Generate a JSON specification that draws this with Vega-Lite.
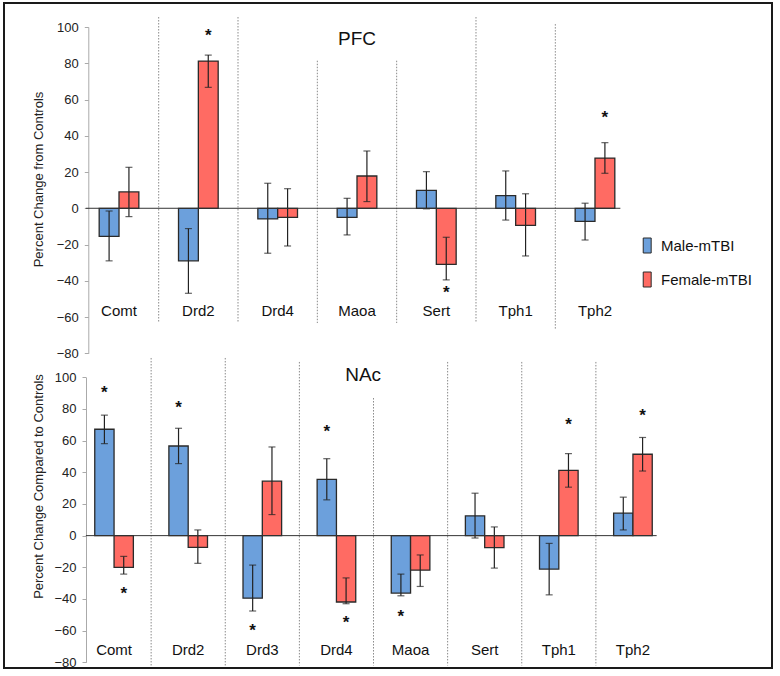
{
  "$schema": "https://vega.github.io/schema/vega-lite/v6.json",
  "width": 768,
  "height": 665,
  "autosize": {"type": "none"},
  "padding": {"left": 4, "top": 3, "right": 8, "bottom": 8},
  "background": "white",
  "config": {
    "view": {"stroke": "#1a1a1a", "strokeWidth": 2, "fill": "white"},
    "font": "Liberation Sans"
  },
  "datasets": {
    "pfc": [
      {"gene": "Comt", "sex": "Male-mTBI", "value": -15.5, "lo": -29, "hi": -1.5, "star": null},
      {"gene": "Comt", "sex": "Female-mTBI", "value": 9, "lo": -4.6, "hi": 22.6, "star": null},
      {"gene": "Drd2", "sex": "Male-mTBI", "value": -29, "lo": -46.9, "hi": -11.2, "star": null},
      {"gene": "Drd2", "sex": "Female-mTBI", "value": 81.2, "lo": 66.7, "hi": 84.5, "star": 97},
      {"gene": "Drd4", "sex": "Male-mTBI", "value": -5.9, "lo": -24.8, "hi": 13.8, "star": null},
      {"gene": "Drd4", "sex": "Female-mTBI", "value": -5, "lo": -20.8, "hi": 10.8, "star": null},
      {"gene": "Maoa", "sex": "Male-mTBI", "value": -5, "lo": -14.7, "hi": 5.5, "star": null},
      {"gene": "Maoa", "sex": "Female-mTBI", "value": 17.8, "lo": 3.7, "hi": 31.6, "star": null},
      {"gene": "Sert", "sex": "Male-mTBI", "value": 9.9, "lo": -0.3, "hi": 20.2, "star": null},
      {"gene": "Sert", "sex": "Female-mTBI", "value": -30.9, "lo": -39.5, "hi": -16, "star": -44.3},
      {"gene": "Tph1", "sex": "Male-mTBI", "value": 7, "lo": -6.5, "hi": 20.6, "star": null},
      {"gene": "Tph1", "sex": "Female-mTBI", "value": -9.4, "lo": -26.3, "hi": 8, "star": null},
      {"gene": "Tph2", "sex": "Male-mTBI", "value": -7.2, "lo": -17.5, "hi": 2.8, "star": null},
      {"gene": "Tph2", "sex": "Female-mTBI", "value": 27.7, "lo": 19.3, "hi": 36.2, "star": 52}
    ],
    "nac": [
      {"gene": "Comt", "sex": "Male-mTBI", "value": 67.2, "lo": 58.1, "hi": 76.1, "star": 92.6},
      {"gene": "Comt", "sex": "Female-mTBI", "value": -20.1, "lo": -24.3, "hi": -13.1, "star": -34.5},
      {"gene": "Drd2", "sex": "Male-mTBI", "value": 56.6, "lo": 45.5, "hi": 67.8, "star": 83},
      {"gene": "Drd2", "sex": "Female-mTBI", "value": -7.4, "lo": -17.5, "hi": 3.6, "star": null},
      {"gene": "Drd3", "sex": "Male-mTBI", "value": -39.5, "lo": -47.6, "hi": -18.6, "star": -57.7},
      {"gene": "Drd3", "sex": "Female-mTBI", "value": 34.4, "lo": 13.3, "hi": 56, "star": null},
      {"gene": "Drd4", "sex": "Male-mTBI", "value": 35.5, "lo": 22.6, "hi": 48.6, "star": 67.7},
      {"gene": "Drd4", "sex": "Female-mTBI", "value": -41.9, "lo": -43, "hi": -26.7, "star": -52.8},
      {"gene": "Maoa", "sex": "Male-mTBI", "value": -36.3, "lo": -38, "hi": -24.3, "star": -48.6},
      {"gene": "Maoa", "sex": "Female-mTBI", "value": -21.8, "lo": -32.1, "hi": -12.2, "star": null},
      {"gene": "Sert", "sex": "Male-mTBI", "value": 12.5, "lo": -1.5, "hi": 26.8, "star": null},
      {"gene": "Sert", "sex": "Female-mTBI", "value": -7.6, "lo": -20.5, "hi": 5.5, "star": null},
      {"gene": "Tph1", "sex": "Male-mTBI", "value": -21.1, "lo": -37.4, "hi": -4.9, "star": null},
      {"gene": "Tph1", "sex": "Female-mTBI", "value": 41.2, "lo": 30.6, "hi": 51.8, "star": 72.5},
      {"gene": "Tph2", "sex": "Male-mTBI", "value": 14.2, "lo": 3.6, "hi": 24.3, "star": null},
      {"gene": "Tph2", "sex": "Female-mTBI", "value": 51.4, "lo": 40.8, "hi": 62, "star": 78.2}
    ],
    "pfcSep": [
      {"gene": "Drd2", "top": 105.5, "bottom": -63.3},
      {"gene": "Drd4", "top": 105.5, "bottom": -63.3},
      {"gene": "Maoa", "top": 81.4, "bottom": -63.3},
      {"gene": "Sert", "top": 81.4, "bottom": -63.3},
      {"gene": "Tph1", "top": 105.5, "bottom": -63.3},
      {"gene": "Tph2", "top": 101.6, "bottom": -67}
    ],
    "nacSep": [
      {"gene": "Drd2", "top": 112.2, "bottom": -82},
      {"gene": "Drd3", "top": 112.2, "bottom": -82},
      {"gene": "Drd4", "top": 109.7, "bottom": -82},
      {"gene": "Maoa", "top": 86.9, "bottom": -82},
      {"gene": "Sert", "top": 109.7, "bottom": -82},
      {"gene": "Tph1", "top": 109.7, "bottom": -82},
      {"gene": "Tph2", "top": 109.7, "bottom": -82}
    ],
    "pfcTitle": [{"panel": "PFC"}],
    "nacTitle": [{"panel": "NAc"}]
  },
  "layer": [
    {
      "data": {"name": "pfc"},
      "layer": [
        {
          "data": {"name": "pfcSep"},
          "mark": {"type": "rule", "color": "#8a8a8a", "strokeWidth": 1, "strokeDash": [1.5, 1.5]},
          "encoding": {
            "x": {"field": "gene", "type": "nominal", "bandPosition": 0, "axis": null},
            "y": {"field": "top", "type": "quantitative"},
            "y2": {"field": "bottom"}
          }
        },
        {
          "mark": {"type": "bar", "stroke": "#2a2a2a", "strokeWidth": 1.3},
          "encoding": {
            "x": {"field": "gene", "type": "nominal", "sort": null, "axis": null,
              "scale": {"domain": ["Comt", "Drd2", "Drd4", "Maoa", "Sert", "Tph1", "Tph2"], "range": [75.35, 630.65], "paddingInner": 0, "paddingOuter": 0}},
            "xOffset": {"field": "sex", "type": "nominal",
              "scale": {"domain": ["Male-mTBI", "Female-mTBI"], "paddingInner": 0, "paddingOuter": 1.2}},
            "y": {"field": "value", "type": "quantitative",
              "scale": {"domain": [-80, 100], "range": [350.3, 24], "nice": false, "zero": false},
              "axis": {"orient": "left", "offset": -84.3, "values": [-80, -60, -40, -20, 0, 20, 40, 60, 80, 100],
                "grid": false, "tickSize": 4, "tickColor": "#aaaaaa", "domainColor": "#aaaaaa",
                "labelFontSize": 13, "labelColor": "#222222", "labelPadding": 6,
                "title": "Percent Change from Controls", "titleFontSize": 13, "titleFontWeight": "normal",
                "titleColor": "#222222", "titleAngle": -90, "titleX": -50.3, "titleY": 176,
                "titleAlign": "center", "titleBaseline": "middle"}},
            "color": {"field": "sex", "type": "nominal",
              "scale": {"domain": ["Male-mTBI", "Female-mTBI"], "range": ["#6CA0DC", "#FF6B63"]},
              "legend": {"orient": "none", "legendX": 635.2, "legendY": 234.5, "title": null,
                "symbolType": "M-0.53,-1 h1.06 v2 h-1.06 Z", "symbolSize": 225,
                "symbolStrokeColor": "#333333", "symbolStrokeWidth": 1, "symbolOpacity": 1,
                "labelFontSize": 15, "labelColor": "#111111", "labelOffset": 5.8, "rowPadding": 14, "padding": 0}}
          }
        },
        {
          "mark": {"type": "rule", "color": "#222222", "strokeWidth": 1.2},
          "encoding": {
            "x": {"field": "gene", "type": "nominal", "axis": null},
            "xOffset": {"field": "sex", "type": "nominal"},
            "y": {"field": "lo", "type": "quantitative"},
            "y2": {"field": "hi"}
          }
        },
        {
          "mark": {"type": "tick", "orient": "horizontal", "color": "#222222", "size": 7, "thickness": 1.2},
          "encoding": {
            "x": {"field": "gene", "type": "nominal", "axis": null},
            "xOffset": {"field": "sex", "type": "nominal"},
            "y": {"field": "lo", "type": "quantitative"}
          }
        },
        {
          "mark": {"type": "tick", "orient": "horizontal", "color": "#222222", "size": 7, "thickness": 1.2},
          "encoding": {
            "x": {"field": "gene", "type": "nominal", "axis": null},
            "xOffset": {"field": "sex", "type": "nominal"},
            "y": {"field": "hi", "type": "quantitative"}
          }
        },
        {
          "data": {"name": "pfcTitle"},
          "mark": {"type": "rule", "color": "#333333", "strokeWidth": 1},
          "encoding": {
            "x": {"datum": "Comt", "type": "nominal", "bandPosition": 0.08, "axis": null},
            "x2": {"datum": "Tph2", "bandPosition": 0.82},
            "y": {"datum": 0, "type": "quantitative"}
          }
        },
        {
          "transform": [{"filter": "datum.star != null"}],
          "mark": {"type": "text", "text": "*", "fontSize": 17, "fontWeight": "bold", "color": "#111111", "baseline": "middle", "dy": 4},
          "encoding": {
            "x": {"field": "gene", "type": "nominal", "axis": null},
            "xOffset": {"field": "sex", "type": "nominal"},
            "y": {"field": "star", "type": "quantitative"}
          }
        },
        {
          "transform": [{"filter": "datum.sex == 'Male-mTBI'"}],
          "mark": {"type": "text", "fontSize": 15, "color": "#111111", "baseline": "middle"},
          "encoding": {
            "x": {"field": "gene", "type": "nominal", "axis": null},
            "y": {"datum": -56.5},
            "text": {"field": "gene"}
          }
        },
        {
          "data": {"name": "pfcTitle"},
          "mark": {"type": "text", "fontSize": 19, "color": "#111111", "baseline": "middle"},
          "encoding": {
            "x": {"datum": "Maoa", "type": "nominal", "axis": null},
            "y": {"datum": 93.4},
            "text": {"field": "panel"}
          }
        }
      ]
    },
    {
      "data": {"name": "nac"},
      "layer": [
        {
          "data": {"name": "nacSep"},
          "mark": {"type": "rule", "color": "#8a8a8a", "strokeWidth": 1, "strokeDash": [1.5, 1.5]},
          "encoding": {
            "x": {"field": "gene", "type": "nominal", "bandPosition": 0, "axis": null},
            "y": {"field": "top", "type": "quantitative"},
            "y2": {"field": "bottom"}
          }
        },
        {
          "mark": {"type": "bar", "stroke": "#2a2a2a", "strokeWidth": 1.3},
          "encoding": {
            "x": {"field": "gene", "type": "nominal", "sort": null, "axis": null,
              "scale": {"domain": ["Comt", "Drd2", "Drd3", "Drd4", "Maoa", "Sert", "Tph1", "Tph2"], "range": [73, 666], "paddingInner": 0, "paddingOuter": 0}},
            "xOffset": {"field": "sex", "type": "nominal",
              "scale": {"domain": ["Male-mTBI", "Female-mTBI"], "paddingInner": 0, "paddingOuter": 0.92}},
            "y": {"field": "value", "type": "quantitative",
              "scale": {"domain": [-80, 100], "range": [659.3, 374.3], "nice": false, "zero": false},
              "axis": {"orient": "left", "offset": -82, "values": [-80, -60, -40, -20, 0, 20, 40, 60, 80, 100],
                "grid": false, "tickSize": 4, "tickColor": "#aaaaaa", "domainColor": "#aaaaaa",
                "labelFontSize": 13, "labelColor": "#222222", "labelPadding": 6,
                "title": "Percent Change Compared to Controls", "titleFontSize": 13, "titleFontWeight": "normal",
                "titleColor": "#222222", "titleAngle": -90, "titleX": -48, "titleY": 483,
                "titleAlign": "center", "titleBaseline": "middle"}},
            "color": {"field": "sex", "type": "nominal"}
          }
        },
        {
          "mark": {"type": "rule", "color": "#222222", "strokeWidth": 1.2},
          "encoding": {
            "x": {"field": "gene", "type": "nominal", "axis": null},
            "xOffset": {"field": "sex", "type": "nominal"},
            "y": {"field": "lo", "type": "quantitative"},
            "y2": {"field": "hi"}
          }
        },
        {
          "mark": {"type": "tick", "orient": "horizontal", "color": "#222222", "size": 7, "thickness": 1.2},
          "encoding": {
            "x": {"field": "gene", "type": "nominal", "axis": null},
            "xOffset": {"field": "sex", "type": "nominal"},
            "y": {"field": "lo", "type": "quantitative"}
          }
        },
        {
          "mark": {"type": "tick", "orient": "horizontal", "color": "#222222", "size": 7, "thickness": 1.2},
          "encoding": {
            "x": {"field": "gene", "type": "nominal", "axis": null},
            "xOffset": {"field": "sex", "type": "nominal"},
            "y": {"field": "hi", "type": "quantitative"}
          }
        },
        {
          "data": {"name": "nacTitle"},
          "mark": {"type": "rule", "color": "#333333", "strokeWidth": 1},
          "encoding": {
            "x": {"datum": "Comt", "type": "nominal", "bandPosition": 0.12, "axis": null},
            "x2": {"datum": "Tph2", "bandPosition": 0.82},
            "y": {"datum": 0, "type": "quantitative"}
          }
        },
        {
          "transform": [{"filter": "datum.star != null"}],
          "mark": {"type": "text", "text": "*", "fontSize": 17, "fontWeight": "bold", "color": "#111111", "baseline": "middle", "dy": 4},
          "encoding": {
            "x": {"field": "gene", "type": "nominal", "axis": null},
            "xOffset": {"field": "sex", "type": "nominal"},
            "y": {"field": "star", "type": "quantitative"}
          }
        },
        {
          "transform": [{"filter": "datum.sex == 'Male-mTBI'"}],
          "mark": {"type": "text", "fontSize": 15, "color": "#111111", "baseline": "middle"},
          "encoding": {
            "x": {"field": "gene", "type": "nominal", "axis": null},
            "y": {"datum": -72},
            "text": {"field": "gene"}
          }
        },
        {
          "data": {"name": "nacTitle"},
          "mark": {"type": "text", "fontSize": 19, "color": "#111111", "baseline": "middle"},
          "encoding": {
            "x": {"datum": "Drd4", "type": "nominal", "bandPosition": 0.86, "axis": null},
            "y": {"datum": 101.5},
            "text": {"field": "panel"}
          }
        }
      ]
    }
  ],
  "resolve": {
    "scale": {"x": "independent", "y": "independent", "xOffset": "independent"},
    "axis": {"y": "independent"}
  }
}
